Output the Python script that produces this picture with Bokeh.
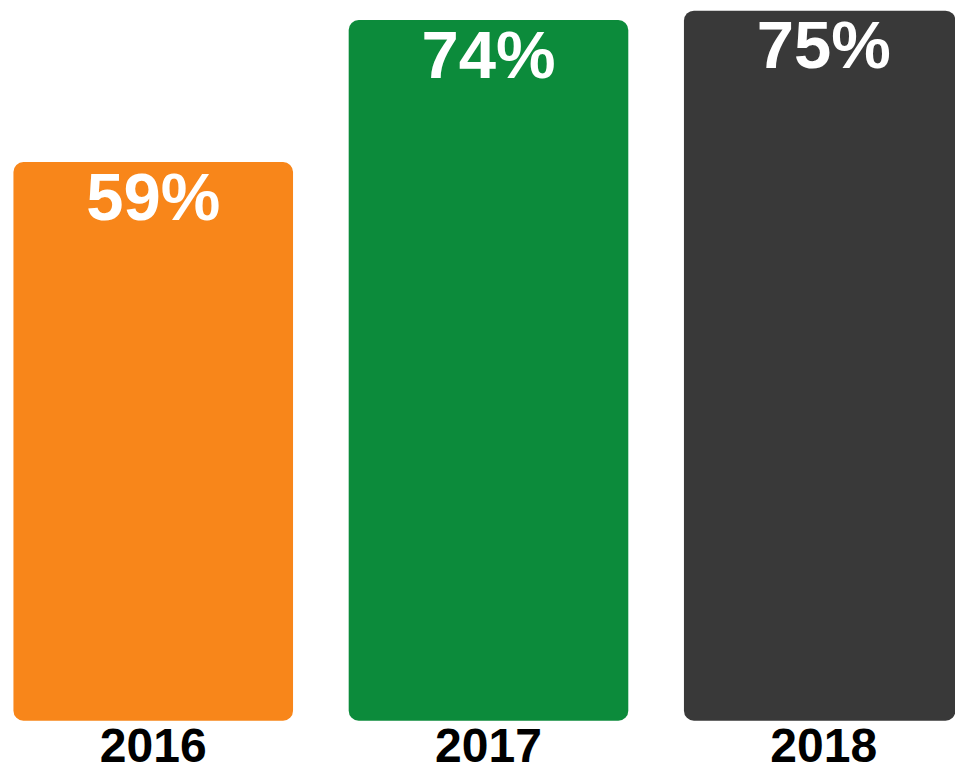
from bokeh.plotting import figure
from bokeh.models import ColumnDataSource, Range1d
from bokeh.core.properties import value
from bokeh.embed import file_html
from bokeh.resources import INLINE

years = ["2016", "2017", "2018"]
shares = [59, 74, 75]
share_labels = ["59%", "74%", "75%"]
bar_colors = ["#F8861A", "#0C8B3B", "#393939"]

idx = list(range(len(years)))
src = ColumnDataSource(dict(x=idx, top=shares, label=share_labels, year=years,
                            color=bar_colors, base=[0] * len(years)))

p = figure(width=955, height=774, output_backend="svg", toolbar_location=None,
           x_range=Range1d(-0.4556, 2.393), y_range=Range1d(-5.69, 76.07),
           min_border=0, x_axis_location=None, y_axis_location=None)
p.outline_line_color = None
p.xgrid.visible = False
p.ygrid.visible = False
p.background_fill_color = "white"
p.border_fill_color = "white"

p.vbar(x="x", top="top", bottom=0, width=0.834, fill_color="color", line_color=None,
       border_radius=10, source=src)

p.text(x="x", y="top", text="label", source=src, text_color="white",
       text_font=value("Liberation Sans"), text_font_style="bold",
       text_font_size="67px", text_align="center", text_baseline="alphabetic",
       y_offset=34)

p.text(x="x", y="base", text="year", source=src, text_color="black",
       text_font=value("Liberation Sans"), text_font_style="bold",
       text_font_size="48px", text_align="center", text_baseline="alphabetic",
       y_offset=25)

open("out.html", "w").write(file_html(p, INLINE))
